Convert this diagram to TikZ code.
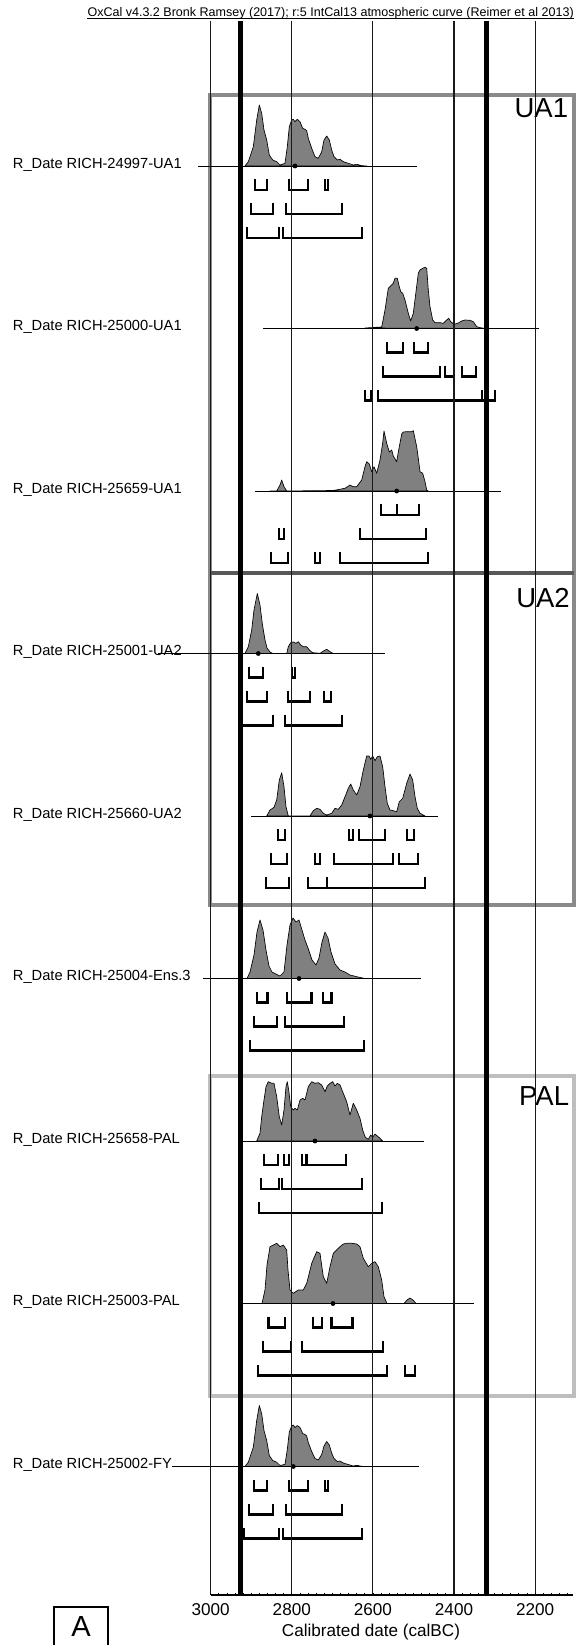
\documentclass[tikz,border=0pt]{standalone}
\usepackage{fontspec}
\setmainfont{Liberation Sans}
\definecolor{distgray}{HTML}{808080}
\definecolor{uaone}{HTML}{8A8A8A}
\definecolor{uasep}{HTML}{585858}
\definecolor{uatwo}{HTML}{8A8A8A}
\definecolor{palgray}{HTML}{BEBEBE}
\newcommand{\ocbr}[3]{\draw[brk] (#1,#3) -- (#1,#3+11) -- (#2,#3+11) -- (#2,#3);}
\begin{document}
\begin{tikzpicture}[x=0.75pt,y=-0.75pt,
  vline/.style={line width=0.8pt, black!90},
  thickv/.style={line width=3.75pt, black},
  dateline/.style={line width=0.75pt, black},
  dist/.style={fill=distgray, draw=black, line width=0.5pt, line join=round},
  brk/.style={line width=1.6pt, black, line join=miter},
  dot/.style={fill=black, inner sep=0pt, minimum size=3.6pt, circle},
  lab/.style={anchor=base west, inner sep=0pt, font=\fontsize{11}{13}\selectfont},
  phase/.style={anchor=base east, inner sep=0pt, font=\fontsize{20.6}{24}\selectfont},
  ticklab/.style={anchor=base, inner sep=0pt, font=\fontsize{12.85}{15}\selectfont},
  boxline/.style={line width=3pt}
]
\useasboundingbox (0,0) rectangle (575,1645);
% phase boxes
\draw[boxline, uaone] (209.5,95) rectangle (573.5,573);
\draw[boxline, uatwo] (209.5,573) rectangle (573.5,905);
\draw[boxline, uasep] (209.5,573) -- (573.5,573);
\draw[boxline, palgray] (209.5,1076) rectangle (573.5,1396);
\node[phase] (pua1) at (568.3,117.3) {UA1};
\node[phase] (pua2) at (570,607.3) {UA2};
\node[phase] (ppal) at (569.3,1105) {PAL};
% title
\node[anchor=base east, inner sep=0pt, font=\fontsize{9.4}{11}\selectfont] (title) at (574,17) {OxCal v4.3.2 Bronk Ramsey (2017); r:5 IntCal13 atmospheric curve (Reimer et al 2013)};
\draw[line width=0.6pt] ([yshift=-1.3pt]title.base west) -- ([yshift=-1.3pt]title.base east);
% labels
\node[lab] (l1) at (12.7,168) {R\_Date RICH-24997-UA1};
\node[lab] (l2) at (12.7,330.5) {R\_Date RICH-25000-UA1};
\node[lab] (l3) at (12.7,493) {R\_Date RICH-25659-UA1};
\node[lab] (l4) at (12.7,655.5) {R\_Date RICH-25001-UA2};
\node[lab] (l5) at (12.7,818) {R\_Date RICH-25660-UA2};
\node[lab] (l6) at (12.7,980.5) {R\_Date RICH-25004-Ens.3};
\node[lab] (l7) at (12.7,1143) {R\_Date RICH-25658-PAL};
\node[lab] (l8) at (12.7,1305.5) {R\_Date RICH-25003-PAL};
\node[lab] (l9) at (12.7,1468.5) {R\_Date RICH-25002-FY};
% distributions
\draw[dist] (245,166) -- (248.3,161.7) -- (253.3,146.7) -- (256.7,120) -- (259.3,105) -- (261.7,113.3) -- (264,130) -- (266.7,140) -- (269.3,155) -- (272.7,160) -- (276.7,161.7) -- (280,165) -- (285,163.3) -- (287.3,146.7) -- (289.3,126.7) -- (291.7,120) -- (293.3,119.3) -- (295,121.7) -- (297.3,119.3) -- (300,121.7) -- (302.7,128.3) -- (305,129.3) -- (306.7,130.7) -- (308.3,138.3) -- (311.7,148.3) -- (315,156.7) -- (318.3,158.3) -- (321.7,151.7) -- (324,140) -- (326.7,136) -- (329.3,140) -- (331.7,150) -- (334,156.7) -- (337.3,160) -- (340,159.3) -- (343.3,161.7) -- (348.3,163.3) -- (353.3,165) -- (356.7,164.3) -- (361.7,165.7) -- (366.7,166) -- cycle;
\draw[dist] (365,328) -- (381.7,327) -- (385,310) -- (388.3,288.3) -- (390.7,286) -- (393.3,283.3) -- (395,278.3) -- (397.3,278.3) -- (399.3,286.7) -- (400.7,291.7) -- (402.7,293.3) -- (405,300) -- (408.3,313.3) -- (410.7,321) -- (413.3,313.3) -- (416,291.7) -- (418.3,273.3) -- (420,270) -- (422.7,268.3) -- (425,267.3) -- (426.7,268.3) -- (428.3,290) -- (430,306.7) -- (432.7,320) -- (435,322.7) -- (440,322.7) -- (443.3,323.3) -- (446.7,320) -- (448.7,318.3) -- (450.7,321.7) -- (454,324.3) -- (458.3,323) -- (461.7,321) -- (465,320) -- (470,320.3) -- (473.3,321.7) -- (476.7,326.7) -- (481.7,328) -- (490,328.5) -- cycle;
\draw[dist] (270,491) -- (276.7,491) -- (280,485) -- (281.7,480) -- (284,486.7) -- (286.7,491) -- (333.3,490.5) -- (345,488.3) -- (350,485) -- (353.3,486.7) -- (356.7,486.7) -- (361.7,480) -- (365,466.7) -- (366.7,461.7) -- (369.3,464) -- (371.7,471.7) -- (374,466.7) -- (376.7,473.3) -- (380,460) -- (382.7,443) -- (384,431) -- (386.7,443.3) -- (389.3,452) -- (391.7,450) -- (393.3,456) -- (396.7,461.7) -- (398.3,452) -- (400,443) -- (401.7,434) -- (403.3,432) -- (406.7,431.7) -- (411.7,431.7) -- (413.3,430.7) -- (416.7,446.7) -- (418.3,458.3) -- (420,471.7) -- (422.7,473.3) -- (425,481.7) -- (426.7,490) -- (428.3,491) -- cycle;
\draw[dist] (245,653.5) -- (248.3,646.7) -- (251.7,630) -- (254,610) -- (257.3,593.5) -- (260,605) -- (262.5,625) -- (265,640) -- (267,648) -- (270,652) -- (273,653.5) -- (286.7,653.5) -- (288.3,646.7) -- (290.7,642.7) -- (293.3,642) -- (296,643.3) -- (298.3,641.7) -- (300.7,645) -- (303.3,646.7) -- (306.7,646.7) -- (310,650.7) -- (312.7,652.7) -- (320,653.3) -- (324,650.7) -- (326.7,649.3) -- (330,651.7) -- (333.3,653.5) -- cycle;
\draw[dist] (266.7,816) -- (270,810) -- (274,807.3) -- (276.7,800) -- (279.3,780) -- (281.7,772.7) -- (284,786.7) -- (286,806.7) -- (288.3,816) -- (310,816) -- (313.3,810.7) -- (316.7,808.3) -- (320,809.3) -- (323.3,813.3) -- (326.7,815) -- (331.7,813.3) -- (335,808.3) -- (338.3,809.3) -- (341.7,805) -- (345,796.7) -- (348.3,788.3) -- (350.7,784) -- (353.3,790) -- (356.7,795) -- (360,786.7) -- (363.3,770) -- (366.7,756) -- (369,756) -- (370.7,759.3) -- (372.7,756) -- (375,760.7) -- (377.3,756.7) -- (380,756) -- (382.7,766.7) -- (385,786.7) -- (387.3,803.3) -- (390,810) -- (393.3,810.7) -- (396.7,811.7) -- (399.3,801.7) -- (402.7,798.3) -- (406.7,783.3) -- (410,774) -- (412.7,780) -- (415,796.7) -- (417.3,808.3) -- (420,813.3) -- (425,816) -- cycle;
\draw[dist] (247,978.5) -- (250,972) -- (254,955) -- (257,932) -- (260,920) -- (263,930) -- (266,950) -- (269,966) -- (272,972) -- (276,974) -- (280,976) -- (284,972) -- (287,945) -- (290,925) -- (293,918) -- (296,922) -- (299,920) -- (302,930) -- (305,940) -- (308,948) -- (312,960) -- (316,965) -- (319,958) -- (322,942) -- (325,932) -- (328,938) -- (331,952) -- (335,964) -- (340,970) -- (345,972) -- (350,975) -- (358,977) -- (365,978.5) -- cycle;
\draw[dist] (256.7,1141) -- (260,1133.3) -- (261.7,1116.7) -- (264,1100) -- (266,1086.7) -- (268.3,1081.7) -- (271.7,1083.3) -- (274,1083.3) -- (276.7,1096.7) -- (279.3,1116.7) -- (281.7,1125) -- (284,1110) -- (286,1086.7) -- (287.3,1081.7) -- (288.7,1090) -- (290.7,1106.7) -- (293.3,1110) -- (295,1108.3) -- (297.3,1110) -- (300,1100) -- (302.7,1098.3) -- (305,1100) -- (308.3,1086.7) -- (311.7,1081.7) -- (315,1083.3) -- (318.3,1082.7) -- (321.7,1085) -- (325,1091.7) -- (327.3,1086) -- (330,1083.3) -- (332.7,1081.7) -- (335,1086) -- (337.3,1083.3) -- (340,1085) -- (343.3,1093.3) -- (346.7,1101.7) -- (350,1115) -- (353.3,1103.3) -- (356.7,1110) -- (360,1118.3) -- (362.7,1130) -- (365.3,1137.3) -- (368.3,1139.3) -- (370.7,1135) -- (372.7,1137.3) -- (375,1134) -- (377.3,1136) -- (380,1138.3) -- (382.7,1141) -- cycle;
\draw[dist] (262,1303.5) -- (265,1290) -- (267,1265) -- (270,1246.7) -- (273.3,1245) -- (276.7,1243.3) -- (280,1246.7) -- (283.3,1245) -- (286.7,1250) -- (288,1270) -- (290,1290) -- (293.3,1293.3) -- (298.3,1290) -- (303.3,1290) -- (306.7,1283.3) -- (311.7,1263.3) -- (316.7,1251.7) -- (320,1253.3) -- (323.3,1276.7) -- (326.7,1283.3) -- (330,1266.7) -- (333.3,1253.3) -- (336.7,1250) -- (340,1246.7) -- (343.3,1244) -- (346.7,1243.3) -- (351.7,1243.3) -- (356.7,1244) -- (360,1246.7) -- (363.3,1258.3) -- (368.3,1266.7) -- (371.7,1263.3) -- (375,1261.7) -- (378.3,1266.7) -- (381.7,1280) -- (384,1296.7) -- (387,1303.5) -- cycle;
\draw[dist] (404,1303.5) -- (407,1300) -- (410,1298) -- (413,1300) -- (416,1303.5) -- cycle;
\draw[dist] (245,1466.5) -- (248.3,1462.2) -- (253.3,1447.2) -- (256.7,1420.5) -- (259.3,1405.5) -- (261.7,1413.8) -- (264,1430.5) -- (266.7,1440.5) -- (269.3,1455.5) -- (272.7,1460.5) -- (276.7,1462.2) -- (280,1465.5) -- (285,1464.3) -- (287.3,1449.5) -- (289.3,1432) -- (291.7,1426) -- (293.3,1425) -- (295,1427.5) -- (297.3,1425.5) -- (300,1427.5) -- (302.7,1433.5) -- (305,1434.5) -- (306.7,1436) -- (308.3,1442.5) -- (311.7,1451.5) -- (315,1458.5) -- (318.3,1460) -- (321.7,1454.5) -- (324,1446) -- (326.7,1441.5) -- (329.3,1445) -- (331.7,1453) -- (334,1458.5) -- (337.3,1461.5) -- (340,1461) -- (343.3,1463) -- (348.3,1464.5) -- (353.3,1466) -- (356.7,1465.3) -- (361.7,1466.3) -- (366.7,1466.5) -- cycle;
% date lines
\draw[dateline] (198,166) -- (417.3,166);
\draw[dateline] (263.3,328.5) -- (539.3,328.5);
\draw[dateline] (255,491) -- (500.7,491);
\draw[dateline] (158,653.5) -- (385,653.5);
\draw[dateline] (251,816) -- (437.7,816);
\draw[dateline] (202.5,978.5) -- (420.7,978.5);
\draw[dateline] (243.3,1141) -- (424,1141);
\draw[dateline] (243,1303.5) -- (474,1303.5);
\draw[dateline] (172,1466.5) -- (419.3,1466.5);
% medians
\node[dot] (d1) at (295,166) {};
\node[dot] (d2) at (416.7,328.5) {};
\node[dot] (d3) at (396.7,491) {};
\node[dot] (d4) at (258.3,653.5) {};
\node[dot] (d5) at (370,816) {};
\node[dot] (d6) at (299,978.5) {};
\node[dot] (d7) at (315,1141) {};
\node[dot] (d8) at (333,1303.5) {};
\node[dot] (d9) at (293.3,1466.5) {};
% ranges
\ocbr{255}{267.3}{179} \ocbr{289.3}{308.3}{179} \ocbr{325}{327.7}{179}
\ocbr{250.7}{272.7}{203} \ocbr{286}{342.3}{203}
\ocbr{246.7}{279.3}{227} \ocbr{283.3}{361.7}{227}
\ocbr{386.7}{403.3}{341.5} \ocbr{414.3}{428.3}{341.5}
\ocbr{382.7}{440}{365.5} \ocbr{445}{454}{365.5} \ocbr{461.7}{475.7}{365.5}
\ocbr{365}{370.7}{389.5} \ocbr{378.3}{481.7}{389.5} \ocbr{481.7}{495}{389.5}
\ocbr{380.7}{396.7}{504} \ocbr{396.7}{419.3}{504}
\ocbr{279}{284}{528} \ocbr{360}{426}{528}
\ocbr{270.7}{287.7}{552} \ocbr{315}{320}{552} \ocbr{340}{428.3}{552}
\ocbr{249.3}{263.3}{666.5} \ocbr{291.7}{295}{666.5}
\ocbr{246.7}{267.3}{690.5} \ocbr{288.3}{310}{690.5} \ocbr{324.3}{330.7}{690.5}
\ocbr{242}{273.3}{714.5} \ocbr{285.3}{342.3}{714.5}
\ocbr{278.3}{285}{829} \ocbr{348.7}{353.3}{829} \ocbr{359}{385}{829} \ocbr{407.3}{414}{829}
\ocbr{270.7}{287.3}{853} \ocbr{315}{320}{853} \ocbr{334}{393.3}{853} \ocbr{399}{417.7}{853}
\ocbr{266}{289.3}{877} \ocbr{308.3}{326.7}{877} \ocbr{326.7}{425}{877}
\ocbr{257}{267.5}{991.5} \ocbr{287.4}{311.5}{991.5} \ocbr{323}{331.5}{991.5}
\ocbr{254}{277}{1015.5} \ocbr{285}{344}{1015.5}
\ocbr{249.7}{364}{1039.5}
\ocbr{264.3}{278.3}{1154} \ocbr{284}{289.3}{1154} \ocbr{302.3}{306}{1154} \ocbr{306.7}{345.7}{1154}
\ocbr{261}{279.3}{1178} \ocbr{281.7}{361.7}{1178}
\ocbr{258.7}{381.7}{1202}
\ocbr{268.5}{285}{1316.5} \ocbr{312.6}{322}{1316.5} \ocbr{331.5}{352.5}{1316.5}
\ocbr{263}{290.6}{1340.5} \ocbr{302}{383}{1340.5}
\ocbr{258}{387}{1364.5} \ocbr{405}{415.4}{1364.5}
\ocbr{254}{266.7}{1479.5} \ocbr{289.3}{308.3}{1479.5} \ocbr{325}{327.7}{1479.5}
\ocbr{249.3}{273.3}{1503.5} \ocbr{286}{342.3}{1503.5}
\ocbr{244}{279.3}{1527.5} \ocbr{283.3}{361.7}{1527.5}
% grid
\foreach \gx in {210.7,291.8,372.9,454,535.1} {\draw[vline] (\gx,21) -- (\gx,1595);}
\draw[thickv] (240.7,21) -- (240.7,1595);
\draw[thickv] (486.5,21) -- (486.5,1595);
% axis
\draw[line width=0.9pt] (210.7,1595) -- (573,1595);
\foreach \i in {0,...,44} {\draw[line width=0.6pt] (210.7+\i*8.11,1595) -- ++(0,-2.5);}
\node[ticklab] (t3000) at (210.7,1615) {3000};
\node[ticklab] (t2800) at (291.8,1615) {2800};
\node[ticklab] (t2600) at (372.9,1615) {2600};
\node[ticklab] (t2400) at (454,1615) {2400};
\node[ticklab] (t2200) at (535.1,1615) {2200};
\node[ticklab] (xlab) at (371,1636) {Calibrated date (calBC)};
% panel letter
\draw[line width=1.2pt] (54,1650) -- (54,1606.7) -- (108,1606.7) -- (108,1650);
\node[anchor=base, inner sep=0pt, font=\fontsize{21.8}{26}\selectfont] (panA) at (81,1636) {A};
\end{tikzpicture}
\end{document}
